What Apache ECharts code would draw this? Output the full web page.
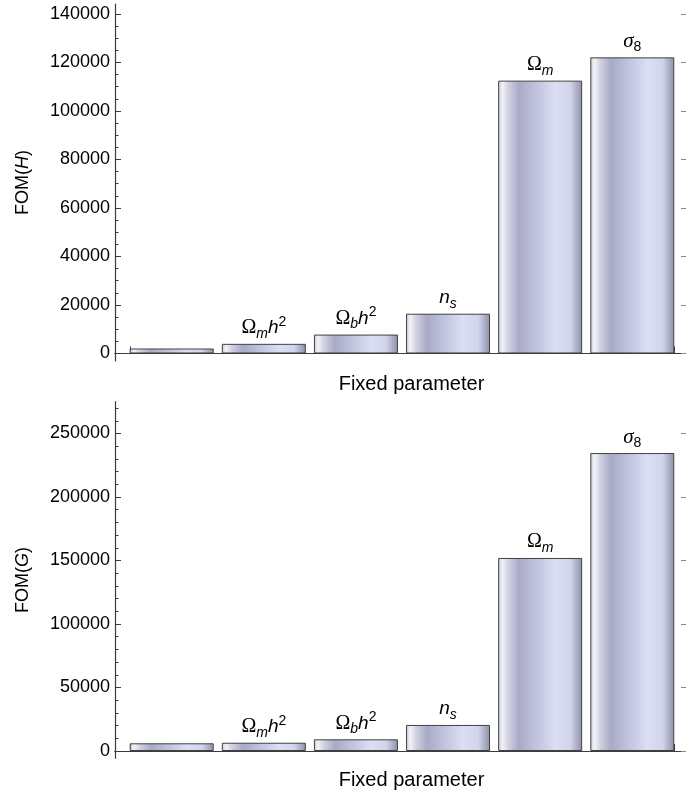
<!DOCTYPE html>
<html><head><meta charset="utf-8">
<script src="https://cdn.jsdelivr.net/npm/echarts@6/dist/echarts.min.js"></script>
<style>html,body{margin:0;padding:0;background:#fff}#c{width:686px;height:799px}</style>
</head><body><div id="c"></div>
<script>
// ---- data ----
const categories = ['h', 'Omega_m h^2', 'Omega_b h^2', 'n_s', 'Omega_m', 'sigma_8'];
const barLabels = ['', '{g|Ω}{si|m}{it|h}{sup|2}', '{g|Ω}{si|b}{it|h}{sup|2}', '{it|n}{si|s}', '{g|Ω}{si|m}', '{gi|σ}{su|8}'];
const fomH = [2050, 3980, 7800, 16400, 112500, 122100];
const fomG = [6060, 6500, 9200, 20500, 152000, 234600];
const yTicksH = [0, 20000, 40000, 60000, 80000, 100000, 120000, 140000];
const yTicksG = [0, 50000, 100000, 150000, 200000, 250000];
const xAxisName = 'Fixed parameter';
const yNameH = 'FOM({i|H})';
const yNameG = 'FOM({i|G})';

// ---- layout ----
const pxPerUnit = 92.6, barPx = 84;
const xMin = 1 - (172 - 115) / pxPerUnit;
const gridW = 574;
const xMax = xMin + gridW / pxPerUnit;
const halfBar = barPx / pxPerUnit / 2;
const xEdges = [1 - halfBar, categories.length + halfBar];

function minorTicks(majors) {
  const out = [];
  const step = majors[1] - majors[0];
  const n = majors.length === 8 ? 4 : 5;
  for (let k = 0; k < majors.length; k++) {
    for (let j = 1; j < n; j++) out.push(majors[k] + j * step / n);
  }
  return out;
}

const axisColor = '#3c3c3c';
const fontSans = 'Liberation Sans, Arial, sans-serif';
const fontSerif = 'Liberation Serif, Times New Roman, serif';

const barFill = {
  type: 'linear', x: 0, y: 0, x2: 1, y2: 0,
  colorStops: [
    {offset: 0, color: '#c9cad8'},
    {offset: 0.05, color: '#f2f2f7'},
    {offset: 0.12, color: '#d0d1e2'},
    {offset: 0.25, color: '#a8aac6'},
    {offset: 0.45, color: '#c0c2de'},
    {offset: 0.68, color: '#dcdef3'},
    {offset: 0.86, color: '#d2d4ec'},
    {offset: 0.95, color: '#a6a8c2'},
    {offset: 1, color: '#8e90aa'}
  ]
};

const rich = {
  g: {fontFamily: fontSerif, fontSize: 20, lineHeight: 26, color: '#000'},
  gi: {fontFamily: fontSerif, fontStyle: 'italic', fontSize: 21, lineHeight: 26, color: '#000'},
  it: {fontFamily: fontSans, fontStyle: 'italic', fontSize: 19, lineHeight: 26, color: '#000'},
  si: {fontFamily: fontSans, fontStyle: 'italic', fontSize: 14, lineHeight: 18, verticalAlign: 'bottom', color: '#000'},
  su: {fontFamily: fontSans, fontSize: 14, lineHeight: 18, verticalAlign: 'bottom', color: '#000'},
  sup: {fontFamily: fontSans, fontSize: 14, lineHeight: 16, verticalAlign: 'top', color: '#000'}
};

const grids = [
  {left: 115, top: 4, width: gridW, height: 357},
  {left: 115, top: 401.7, width: gridW, height: 356.6}
];
const yRanges = [[-3100, 144100], [-5750, 275040]];
const majors = [yTicksH, yTicksG];
const yNames = [yNameH, yNameG];
const nameGapsX = [13, 12];
const values = [fomH, fomG];

const xAxes = [], yAxes = [], series = [];
for (let g = 0; g < 2; g++) {
  xAxes.push({
    type: 'value', gridIndex: g, min: xMin, max: xMax, position: 'bottom',
    axisLine: {show: true, lineStyle: {color: axisColor, width: 1.2}},
    axisTick: {show: true, inside: true, length: 7, customValues: xEdges, lineStyle: {color: axisColor}},
    axisLabel: {show: false}, splitLine: {show: false},
    name: xAxisName, nameLocation: 'middle', nameGap: nameGapsX[g],
    nameTextStyle: {fontFamily: fontSans, fontSize: 20, color: '#000', verticalAlign: 'top', padding: [0, 0, 0, 22]}
  });
  xAxes.push({
    type: 'value', gridIndex: g, min: xMin, max: xMax, position: 'top',
    axisLine: {show: true, lineStyle: {color: axisColor, width: 1.2}},
    axisTick: {show: false}, axisLabel: {show: false}, splitLine: {show: false}
  });
  const [mn, mx] = yRanges[g];
  yAxes.push({
    type: 'value', gridIndex: g, min: mn, max: mx, position: 'left',
    axisLine: {show: true, lineStyle: {color: axisColor, width: 1.2}},
    axisTick: {show: true, inside: true, length: 6, customValues: majors[g], lineStyle: {color: axisColor}},
    axisLabel: {show: true, customValues: majors[g], margin: 5, fontFamily: fontSans, fontSize: 18, color: '#000',
      formatter: v => String(v)},
    splitLine: {show: false},
    name: yNames[g], nameLocation: 'middle', nameGap: 83,
    nameTextStyle: {fontFamily: fontSans, fontSize: 18, color: '#000',
      rich: {i: {fontFamily: fontSans, fontStyle: 'italic', fontSize: 18, color: '#000'}}}
  });
  yAxes.push({
    type: 'value', gridIndex: g, min: mn, max: mx, position: 'left',
    axisLine: {show: false},
    axisTick: {show: true, inside: true, length: 3.5, customValues: minorTicks(majors[g]), lineStyle: {color: axisColor}},
    axisLabel: {show: false}, splitLine: {show: false}
  });
  yAxes.push({
    type: 'value', gridIndex: g, min: mn, max: mx, position: 'right',
    axisLine: {show: true, lineStyle: {color: axisColor}},
    axisTick: {show: true, inside: true, length: 5, customValues: majors[g], lineStyle: {color: '#888'}},
    axisLabel: {show: false}, splitLine: {show: false}
  });
  series.push({
    type: 'bar', xAxisIndex: g * 2, yAxisIndex: g * 3, barWidth: barPx,
    data: values[g].map((v, i) => [i + 1, v]),
    itemStyle: {color: barFill, borderColor: '#404040', borderWidth: 1},
    label: {show: true, position: 'top', distance: 3,
      formatter: p => barLabels[p.dataIndex], rich: rich},
    silent: true, animation: false
  });
}

const chart = echarts.init(document.getElementById('c'), null, {renderer: 'canvas'});
chart.setOption({
  animation: false,
  backgroundColor: '#fff',
  grid: grids,
  xAxis: xAxes,
  yAxis: yAxes,
  series: series
});
</script></body></html>
